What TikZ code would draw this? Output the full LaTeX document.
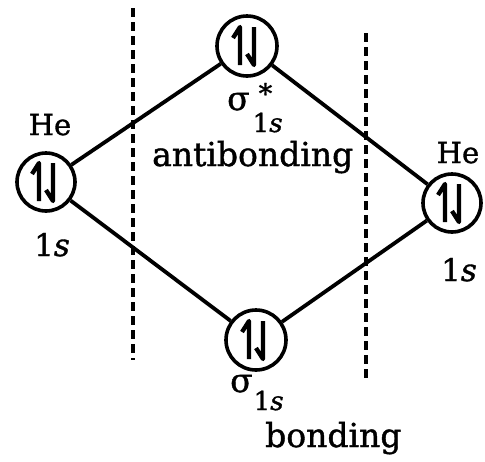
\documentclass[tikz,border=0pt]{standalone}
\usepackage{fontspec}
\setmainfont[FakeBold=1.2]{DejaVu Serif}
\newcommand\spinpair[1]{%
  \begin{scope}[shift={(#1)}]
    \draw[harp] (-7,19) -- (-7,-19) -- (-14,-8);
    \draw[harp] (7,-19) -- (7,19) -- (0,8);
  \end{scope}}
\begin{document}
\begin{tikzpicture}[x=1pt,y=-1pt,
  orb/.style={circle,draw,line width=3.6pt,minimum size=58pt,inner sep=0pt},
  bond/.style={line width=3.8pt},
  divider/.style={line width=4pt,dash pattern=on 9pt off 5pt},
  lbl/.style={inner sep=0pt,font=\fontsize{33}{36}\selectfont},
  harp/.style={line width=4.3pt,line join=round}]
\useasboundingbox (0,0) rectangle (485,461);
\fill[white] (0,0) rectangle (485,461);
% orbitals
\node[orb] (L) at (46,182) {};
\node[orb,minimum size=60pt] (T) at (247,46) {};
\node[orb] (R) at (452,203) {};
\node[orb,minimum size=60pt] (B) at (256,340) {};
\spinpair{L.center}
\spinpair{T.center}
\spinpair{R.center}
\spinpair{B.center}
% connectors
\draw[bond] (L) -- (T);
\draw[bond] (L) -- (B);
\draw[bond] (T) -- (R);
\draw[bond] (B) -- (R);
% dividers
\coordinate (d1a) at (133,8);
\coordinate (d1b) at (133,360);
\coordinate (d2a) at (366,33);
\coordinate (d2b) at (366,378);
\draw[divider] (d1a) -- (d1b);
\draw[divider] (d2a) -- (d2b);
% labels
\node[lbl,anchor=base,font=\fontsize{29}{30}\selectfont] (heL) at (50,135) {He};
\node[lbl,anchor=base,font=\fontsize{31}{34}\selectfont] (sL) at (52,256) {1\textit{s}};
\node[lbl,anchor=base,font=\fontsize{29}{30}\selectfont] (heR) at (458,163) {He};
\node[lbl,anchor=base,font=\fontsize{31}{34}\selectfont] (sR) at (459,281) {1\textit{s}};
\node[lbl,anchor=base west] (sigT) at (227,110) {σ\rlap{\hspace{9pt}\raisebox{7pt}{\fontsize{27}{28}\selectfont *}}\hspace{3pt}\raisebox{-22pt}{\fontsize{26}{28}\selectfont 1\textit{s}}};
\node[lbl,anchor=base west] (anti) at (152,166) {antibonding};
\node[lbl,anchor=base west] (sigB) at (230,392) {σ\hspace{1pt}\raisebox{-18pt}{\fontsize{26}{28}\selectfont 1\textit{s}}};
\node[lbl,anchor=base west] (bond) at (265,447) {bonding};
\end{tikzpicture}
\end{document}
